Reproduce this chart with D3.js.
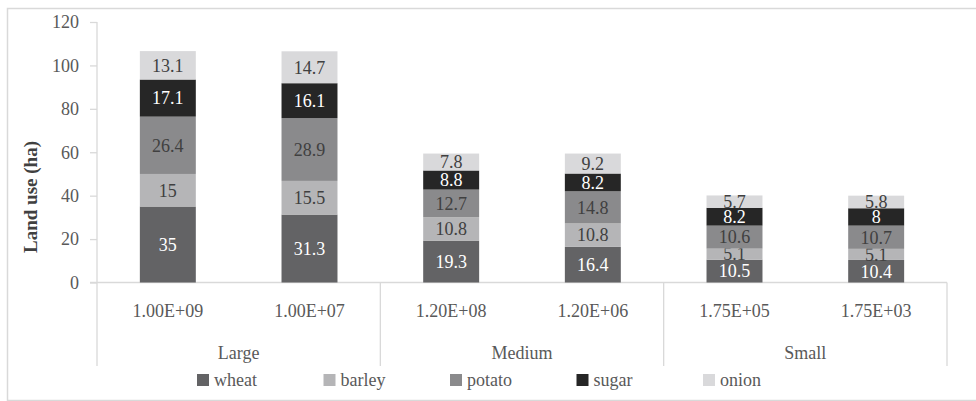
<!DOCTYPE html>
<html><head><meta charset="utf-8">
<script src="https://cdn.jsdelivr.net/npm/d3@7"></script>
<style>
html,body{margin:0;padding:0;background:#fff;}
svg{display:block;}
svg text{font-family:"Liberation Serif","Times New Roman","DejaVu Serif",serif !important;}
</style></head>
<body>
<svg id="chart" width="976" height="401" font-family="Liberation Serif, serif"></svg>
<script>
const groups = ["Large","Large","Medium","Medium","Small","Small"];
const groupNames = ["Large","Medium","Small"];
const categories = ["1.00E+09","1.00E+07","1.20E+08","1.20E+06","1.75E+05","1.75E+03"];
const seriesNames = ["wheat","barley","potato","sugar","onion"];
const wheat  = [35, 31.3, 19.3, 16.4, 10.5, 10.4];
const barley = [15, 15.5, 10.8, 10.8, 5.1, 5.1];
const potato = [26.4, 28.9, 12.7, 14.8, 10.6, 10.7];
const sugar  = [17.1, 16.1, 8.8, 8.2, 8.2, 8];
const onion  = [13.1, 14.7, 7.8, 9.2, 5.7, 5.8];
const yTicks = [0,20,40,60,80,100,120];

const colors = {wheat:"#636365", barley:"#b5b5b7", potato:"#8a8a8c", sugar:"#262626", onion:"#d9d9db"};
const labelColors = {wheat:"#ffffff", barley:"#404040", potato:"#404040", sugar:"#ffffff", onion:"#404040"};
const seriesVals = {wheat, barley, potato, sugar, onion};

const FONT = "Liberation Serif, Times New Roman, DejaVu Serif, serif";
const svg = d3.select("#chart");
const X0 = 97, X1 = 947, Y0 = 282.5, Ytop = 22, Ybottom = 366;
const fs = 18;
const axisColor = "#d9d9d9", textColor = "#595959";

// outer border
svg.append("rect").attr("x",7.5).attr("y",8.5).attr("width",1000).attr("height",392)
  .attr("fill","none").attr("stroke",axisColor).attr("stroke-width",1.5);

const y = d3.scaleLinear().domain([0,120]).range([Y0, Ytop]);
const x = d3.scaleBand().domain(d3.range(categories.length)).range([X0, X1]).paddingInner(0.605).paddingOuter(0.3025);

const rows = categories.map((c,i)=>{ const r={i}; seriesNames.forEach(s=>r[s]=seriesVals[s][i]); return r; });
const stacked = d3.stack().keys(seriesNames)(rows);

// y axis
const yAxis = d3.axisLeft(y).tickValues(yTicks).tickSize(7).tickPadding(11).tickFormat(d3.format("d"));
const yg = svg.append("g").attr("transform",`translate(${X0},0)`).call(yAxis).attr("font-family",FONT).attr("font-size",fs);
yg.select(".domain").remove();
yg.selectAll(".tick line").attr("stroke",axisColor).attr("stroke-width",1.3);
yg.selectAll(".tick text").attr("fill",textColor);
svg.append("line").attr("x1",X0).attr("x2",X0).attr("y1",y(120)).attr("y2",Ybottom).attr("stroke",axisColor).attr("stroke-width",1.3);
svg.append("line").attr("x1",X0-7).attr("x2",X1).attr("y1",Y0).attr("y2",Y0).attr("stroke",axisColor).attr("stroke-width",1.3);

// bars
stacked.forEach(layer=>{
  const s = layer.key;
  const g = svg.append("g");
  g.selectAll("rect").data(layer).join("rect")
    .attr("x",(d,i)=>x(i)).attr("width",x.bandwidth())
    .attr("y",d=>y(d[1])).attr("height",d=>y(d[0])-y(d[1]))
    .attr("fill",colors[s]);
  g.selectAll("text").data(layer).join("text")
    .attr("x",(d,i)=>x(i)+x.bandwidth()/2)
    .attr("y",d=>(y(d[0])+y(d[1]))/2)
    .attr("dy","0.35em")
    .attr("text-anchor","middle")
    .attr("fill",labelColors[s])
    .attr("font-family",FONT).attr("font-size",fs)
    .text((d,i)=>seriesVals[s][i]);
});

// category tick labels
svg.append("g").selectAll("text").data(categories).join("text")
  .attr("x",(d,i)=>x(i)+x.bandwidth()/2).attr("y",317)
  .attr("text-anchor","middle").attr("fill",textColor).attr("font-family",FONT).attr("font-size",fs)
  .text(d=>d);

// group labels & dividers
const gx = d3.scaleBand().domain(groupNames).range([X0, X1]);
svg.append("g").selectAll("text").data(groupNames).join("text")
  .attr("x",d=>gx(d)+gx.bandwidth()/2).attr("y",359)
  .attr("text-anchor","middle").attr("fill",textColor).attr("font-family",FONT).attr("font-size",fs)
  .text(d=>d);
svg.append("g").selectAll("line").data(groupNames.slice(1).concat(["_end"])).join("line")
  .attr("x1",d=>d==="_end"?X1:gx(d)).attr("x2",d=>d==="_end"?X1:gx(d))
  .attr("y1",Y0).attr("y2",Ybottom).attr("stroke",axisColor).attr("stroke-width",1.3);

// y title
svg.append("text").attr("transform",`translate(37,${(Ytop+Ybottom)/2+3}) rotate(-90)`)
  .attr("text-anchor","middle").attr("fill","#404040").attr("font-family",FONT).attr("font-size",19).attr("font-weight","bold")
  .text("Land use (ha)");

// legend
const lx = d3.scalePoint().domain(seriesNames).range([197, 703]);
const lg = svg.append("g").selectAll("g").data(seriesNames).join("g")
  .attr("transform",d=>`translate(${lx(d)},374)`);
lg.append("rect").attr("width",12).attr("height",12).attr("fill",d=>colors[d]);
lg.append("text").attr("x",17).attr("y",11.5).attr("fill",textColor).attr("font-family",FONT).attr("font-size",fs).text(d=>d);
</script>
</body></html>
